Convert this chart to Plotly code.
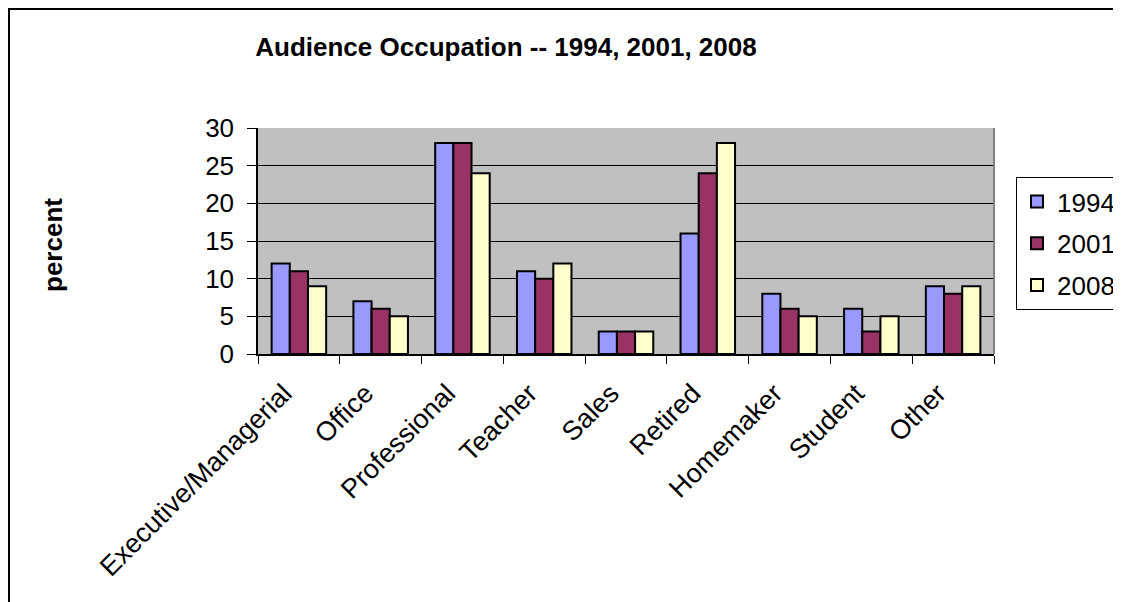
#!/usr/bin/python3
# -*- coding: utf-8 -*-
"""audience occupation 1994 / 2001 / 2008 as a clustered bar chart"""
import plotly.graph_objects as go

occupations = ["Executive/Managerial", "Office", "Professional", "Teacher", "Sales",
               "Retired", "Homemaker", "Student", "Other"]
years = ["1994", "2001", "2008"]
pct_1994 = [12, 7, 28, 11, 3, 16, 8, 6, 9]
pct_2001 = [11, 6, 28, 10, 3, 24, 6, 3, 8]
pct_2008 = [9, 5, 24, 12, 3, 28, 5, 5, 9]
y_ticks = [0, 5, 10, 15, 20, 25, 30]

# old excel palette
colours = ["#9999FF", "#993366", "#FFFFCC"]
FONT = "Liberation Sans, Arial, sans-serif"

# the page body has an 8px margin, so every pixel from the picture is shifted by it
OFF = 8
W, H = 1121 - OFF, 602 - OFF
L, R, T, B = 258 - OFF, 994 - OFF, 128 - OFF, 354 - OFF
pw, ph = R - L, B - T


def px_x(x):
    """picture x pixel -> paper coordinate"""
    return (x - OFF - L) / pw


def px_y(y):
    """picture y pixel -> paper coordinate"""
    return (B - (y - OFF)) / ph


fig = go.Figure()
for i, (yr, vals) in enumerate(zip(years, [pct_1994, pct_2001, pct_2008])):
    fig.add_trace(go.Bar(
        x=occupations,
        y=vals,
        name=yr,
        legendgroup=yr,
        marker_color=colours[i],
        marker_line_color="black",
        marker_line_width=2,
    ))

fig.update_layout(
    width=W, height=H,
    margin=dict(l=L, r=W - R, t=T, b=H - B, autoexpand=False),
    paper_bgcolor="white",
    plot_bgcolor="#C0C0C0",
    barmode="group", bargap=1.5 / 4.5, bargroupgap=0,
    font=dict(family=FONT, size=26, color="black"),
    title=dict(text="<b>Audience Occupation -- 1994, 2001, 2008</b>",
               font=dict(size=26), x=px_x(506), xref="paper",
               y=1 - (47 - OFF) / H, yanchor="middle", xanchor="center"),
    legend=dict(x=px_x(1016), y=px_y(177), xanchor="left", yanchor="top",
                bordercolor="black", borderwidth=1, bgcolor="white",
                tracegroupgap=5, font=dict(size=26)),
    showlegend=True,
)

# excel puts the rotated labels a bit left of the category centre
fig.update_xaxes(
    type="category", tickangle=-45, tickson="boundaries",
    ticks="outside", ticklen=8, tickcolor="black",
    ticklabelstandoff=11, ticklabelshift=-15, tickfont=dict(size=27),
    showline=True, linecolor="black", linewidth=1.5,
    showgrid=False,
)
fig.update_yaxes(
    range=[0, 30], tickvals=y_ticks, ticks="outside", ticklen=9, tickcolor="black",
    ticklabelstandoff=8, tickfont=dict(size=26),
    showline=True, linecolor="black", linewidth=1.5,
    showgrid=True, gridcolor="black", gridwidth=1, zeroline=False,
)

# y axis title sits far left, like the excel one
fig.add_annotation(text="<b>percent</b>", textangle=-90, showarrow=False,
                   xref="paper", yref="paper", x=px_x(53), y=px_y(245),
                   xanchor="center", yanchor="middle", font=dict(size=26))

# grey right edge of the plot area
fig.add_shape(type="line", xref="paper", yref="paper", x0=1, x1=1, y0=0, y1=1,
              line=dict(color="#808080", width=2))
# chart frame, right and bottom run off the picture
fig.add_shape(type="rect", xref="paper", yref="paper",
              x0=px_x(9), x1=px_x(1140), y0=px_y(620), y1=px_y(OFF + 1),
              line=dict(color="black", width=2), layer="below")

fig.write_html("out.html")
